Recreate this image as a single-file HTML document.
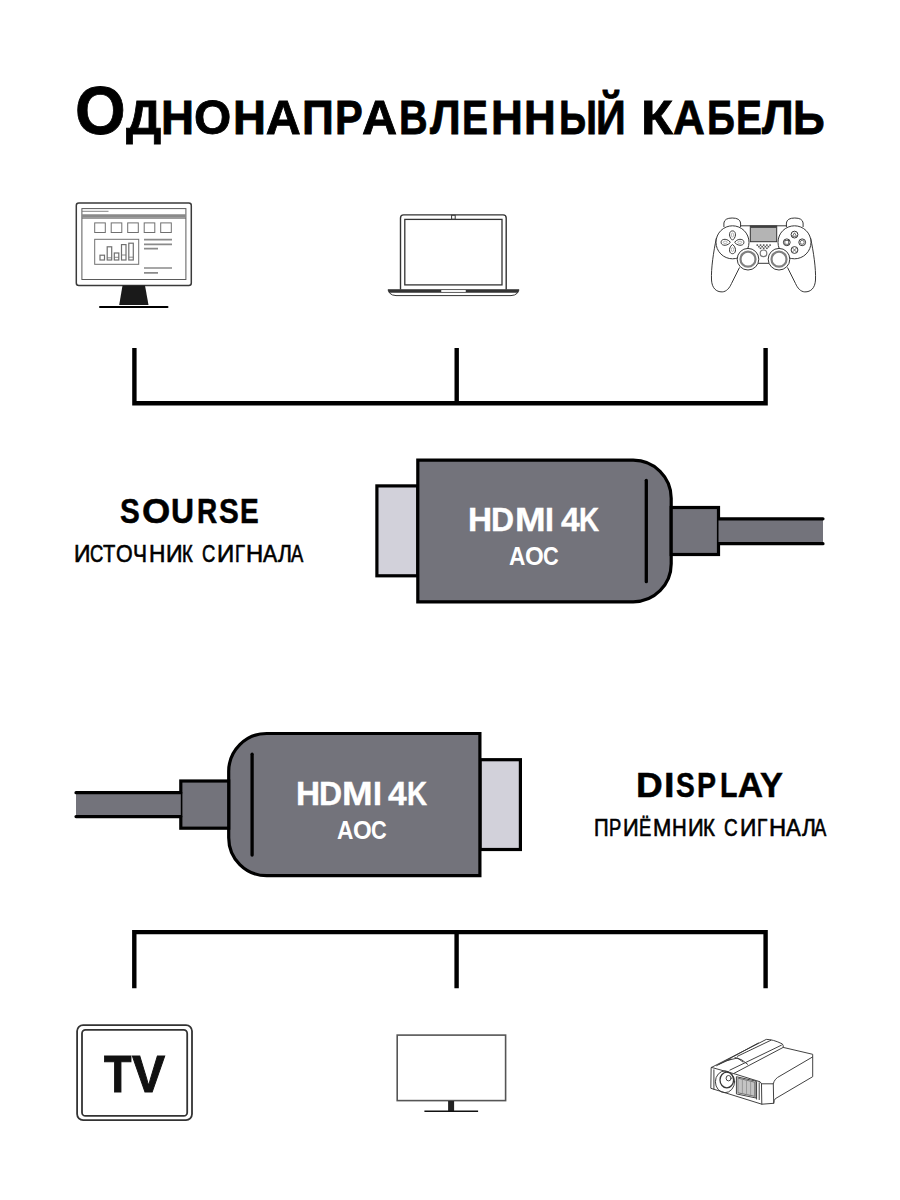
<!DOCTYPE html>
<html><head><meta charset="utf-8">
<style>
html,body{margin:0;padding:0;background:#fff;}
body{width:900px;height:1200px;position:relative;overflow:hidden;font-family:"Liberation Sans",sans-serif;}
svg{position:absolute;left:0;top:0;}
.L{position:absolute;white-space:nowrap;line-height:1;font-weight:bold;transform-origin:0 0;}
.t{position:absolute;white-space:nowrap;line-height:1;color:#000;font-weight:bold;transform-origin:0 0;}
</style></head><body>
<svg width="900" height="1200" viewBox="0 0 900 1200">
  <!-- brackets -->
  <g stroke="#000" stroke-width="4.4" fill="none" stroke-linejoin="miter">
    <path d="M134.4 348 V403.3 H765.6 V348 M456.7 348 V403.3"/>
    <path d="M134.3 988.2 V932.1 H765.6 V988.2 M456.6 932.1 V988.3"/>
  </g>
  <!-- monitor icon -->
  <g fill="none">
    <rect x="76.3" y="202.9" width="115" height="82.6" rx="2.5" stroke="#3a3a3a" stroke-width="1.5"/>
    <rect x="81.9" y="208.6" width="104" height="70.9" stroke="#5a5a5a" stroke-width="1"/>
    <path d="M82 211.3 H108.5" stroke="#777" stroke-width="0.9"/>
    <path d="M82 216 H186" stroke="#8a8a8a" stroke-width="3.6"/>
    <path d="M82 218.3 H186" stroke="#666" stroke-width="0.8"/>
    <g stroke="#707070" stroke-width="1">
      <rect x="94.7" y="222.9" width="10.6" height="9.6"/>
      <rect x="111.2" y="222.9" width="10.6" height="9.6"/>
      <rect x="127.7" y="222.9" width="10.6" height="9.6"/>
      <rect x="144.2" y="222.9" width="10.6" height="9.6"/>
      <rect x="160.7" y="222.9" width="10.6" height="9.6"/>
      <rect x="94.7" y="239.3" width="44" height="25"/>
      <rect x="100" y="255.2" width="4.5" height="4.8" stroke-width="1.2"/>
      <rect x="107.2" y="246.8" width="4.5" height="13.2" stroke-width="1.2"/>
      <rect x="114.3" y="253" width="4.5" height="7" stroke-width="1.2"/>
      <rect x="121.5" y="244.6" width="4.5" height="15.4" stroke-width="1.2"/>
      <rect x="128.8" y="243.2" width="4.5" height="16.8" stroke-width="1.2"/>
      <path d="M107.2 257.8 H111.7 M114.3 257.3 H118.8 M121.5 255 H126 M128.8 257.2 H133.3" stroke-width="0.8"/>
    </g>
    <path d="M144 239.7 H172 M144 244.3 H172 M144 248.6 H158 M144 268 H172 M144 272.8 H158" stroke="#8a8a8a" stroke-width="1.7"/>
  </g>
  <path d="M122.5 285.5 H145 L148.5 305 H119.2 Z" fill="#1a1a1a"/>
  <path d="M100 307 H167.5" stroke="#000" stroke-width="2" stroke-linecap="round"/>
  <!-- laptop icon -->
  <path d="M400.5 289.8 V218 Q400.5 214.9 403.6 214.9 H503.1 Q506.2 214.9 506.2 218 V289.8" fill="none" stroke="#333" stroke-width="1.4"/>
  <rect x="404.8" y="219.4" width="97.2" height="65.5" fill="none" stroke="#333" stroke-width="1.3"/>
  <rect x="451.6" y="215.3" width="3.6" height="3.8" fill="#fff" stroke="#333" stroke-width="1"/>
  <path d="M388 289.8 H519 L517.5 293 Q515 295.6 511 295.6 H396 Q392 295.6 389.5 293 Z" fill="#fff" stroke="#333" stroke-width="1"/>
  <path d="M388 289.8 H519 L517.8 292.8 H389.2 Z" fill="#333"/>
  <rect x="441" y="290" width="25" height="2" rx="1" fill="#f4f4f4"/>
  <!-- gamepad icon -->
  <g fill="none" stroke="#383838" stroke-width="1">
    <path d="M723.9 227 V223 Q724.5 218 732.2 218 Q740 218 740.6 223 V227"/>
    <path d="M803.1 227 V223 Q802.5 218 794.8 218 Q787 218 786.4 223 V227"/>
    <path d="M740 225.8 H787"/>
    <path d="M716.4 238 C713.5 252 711 268 711.5 280 C712 288 716 292 722.2 291.9 C726.5 291.7 729.5 288 731.5 283.5 L739.5 267.5"/>
    <path d="M 810.6 238.0 C 813.5 252.0 816.0 268.0 815.5 280.0 C 815.0 288.0 811.0 292.0 804.8 291.9 C 800.5 291.7 797.5 288.0 795.5 283.5 L 787.5 267.5"/>
    <path d="M757 263.3 H770"/>
    <circle cx="732.5" cy="242.3" r="16.5" fill="#fff"/>
    <circle cx="794.5" cy="242.3" r="16.5" fill="#fff"/>
    <path d="M732.5 240.2 C729.6 238, 729.3 235, 729.6 233.6 C730 231.6, 731.2 230.9, 732.5 230.9 C733.8 230.9, 735 231.6, 735.4 233.6 C735.7 235, 735.4 238, 732.5 240.2 Z"/>
    <path d="M732.5 244.4 C729.6 246.6, 729.3 249.6, 729.6 251 C730 253, 731.2 253.7, 732.5 253.7 C733.8 253.7, 735 253, 735.4 251 C735.7 249.6, 735.4 246.6, 732.5 244.4 Z"/>
    <path d="M730.4 242.3 C728.2 239.4, 725.2 239.1, 723.8 239.4 C721.8 239.8, 721.1 241, 721.1 242.3 C721.1 243.6, 721.8 244.8, 723.8 245.2 C725.2 245.5, 728.2 245.2, 730.4 242.3 Z"/>
    <path d="M734.6 242.3 C736.8 239.4, 739.8 239.1, 741.2 239.4 C743.2 239.8, 743.9 241, 743.9 242.3 C743.9 243.6, 743.2 244.8, 741.2 245.2 C739.8 245.5, 736.8 245.2, 734.6 242.3 Z"/>
    <ellipse cx="732.5" cy="235" rx="1.2" ry="2" stroke="#999" stroke-width="0.7"/>
    <ellipse cx="732.5" cy="249.6" rx="1.2" ry="2" stroke="#999" stroke-width="0.7"/>
    <ellipse cx="725.2" cy="242.3" rx="2" ry="1.2" stroke="#999" stroke-width="0.7"/>
    <ellipse cx="739.8" cy="242.3" rx="2" ry="1.2" stroke="#999" stroke-width="0.7"/>
    <circle cx="794.5" cy="234.6" r="3.4"/>
    <circle cx="794.5" cy="250" r="3.4"/>
    <circle cx="786.8" cy="242.3" r="3.4"/>
    <circle cx="802.2" cy="242.3" r="3.4"/>
    <path d="M792.4 236.3 L794.5 232.8 L796.6 236.3 Z M792.3 247.8 L796.7 252.2 M796.7 247.8 L792.3 252.2" stroke-width="0.7"/>
    <rect x="784.9" y="240.4" width="3.8" height="3.8" stroke-width="0.7"/>
    <circle cx="802.2" cy="242.3" r="2" stroke-width="0.7"/>
    <rect x="750.3" y="226" width="26.4" height="15.7" fill="#b4b4b4" stroke="#333"/>
    <path d="M750.8 227 H776.2" stroke="#333" stroke-width="1.6"/>
    <circle cx="748" cy="259.2" r="10.8" fill="#fff"/>
    <circle cx="779" cy="259.2" r="10.8" fill="#fff"/>
    <circle cx="748" cy="259.2" r="7.5" stroke="#808080" stroke-width="2.2"/>
    <circle cx="779" cy="259.2" r="7.5" stroke="#808080" stroke-width="2.2"/>
    <circle cx="763.5" cy="253.3" r="3.3" stroke="#777" stroke-width="1.2"/>
  </g>
  <g fill="#555">
    <rect x="756.5" y="244.3" width="1.6" height="1.6"/><rect x="759.7" y="244.3" width="1.6" height="1.6"/><rect x="762.9" y="244.3" width="1.6" height="1.6"/><rect x="766.1" y="244.3" width="1.6" height="1.6"/><rect x="769.3" y="244.3" width="1.6" height="1.6"/>
    <rect x="758.1" y="245.9" width="1.6" height="1.6"/><rect x="761.3" y="245.9" width="1.6" height="1.6"/><rect x="764.5" y="245.9" width="1.6" height="1.6"/><rect x="767.7" y="245.9" width="1.6" height="1.6"/>
    <rect x="759.7" y="247.5" width="1.6" height="1.6"/><rect x="762.9" y="247.5" width="1.6" height="1.6"/><rect x="766.1" y="247.5" width="1.6" height="1.6"/>
  </g>
  <!-- TV icon -->
  <rect x="77.1" y="1025.1" width="114.9" height="95" rx="6" fill="none" stroke="#333" stroke-width="1.8"/>
  <rect x="82" y="1029.9" width="105.2" height="86" rx="3.5" fill="none" stroke="#333" stroke-width="1.8"/>
  <!-- flat tv icon -->
  <rect x="397.2" y="1035.1" width="108.4" height="65.5" fill="none" stroke="#555" stroke-width="1.6"/>
  <rect x="448.1" y="1101" width="6" height="10" fill="#222"/>
  <path d="M424.4 1111.2 H478.1" stroke="#111" stroke-width="1.4"/>
  <!-- projector icon -->
  <g fill="none" stroke="#383838" stroke-width="0.95" stroke-linejoin="round" stroke-linecap="round">
    <path d="M711.5 1067.4 L766.3 1039.4 Q773 1039.3 782.3 1043.9 Q783.6 1045.5 783.2 1047.4 L812.7 1054.3 V1076.7 L775.3 1098.7 Q774 1100 773.7 1103.3 L761.8 1104.2 L711.2 1088.4 Z" fill="#fff"/>
    <path d="M711.5 1067.4 L735.7 1074.2 L760.1 1081.8 L761.5 1083.8 H773.3 Q774.5 1078.6 780 1076 L812.5 1057"/>
    <path d="M761.5 1083.8 L761.8 1104.2 M773.3 1083.8 L773.7 1103.3"/>
    <path d="M734.3 1073.2 L783.2 1047.4 M729.9 1070.1 L781.4 1045.2 M716.6 1065.7 L758.3 1043 M737.4 1056.3 L770.8 1040.3"/>
    <path d="M735 1057.5 Q742 1058.5 747.7 1064.3 M727 1060.5 L737.5 1058 L743 1062 M719 1064.3 L731 1059"/>
    <path d="M713.9 1069.8 V1089.3"/>
    <path d="M756.6 1081.8 V1099.1 M759.2 1082.7 V1099.6"/>
    <ellipse cx="725" cy="1081.8" rx="9.6" ry="10.9"/>
    <ellipse cx="726.8" cy="1080" rx="6.8" ry="7.8" stroke-width="1.3"/>
    <ellipse cx="728.6" cy="1078.2" rx="2.5" ry="2.7"/>
    <path d="M736.8 1076.8 L756 1081.2 V1098 L736.8 1094 Z"/>
    <path d="M738.3 1078.2 L754.8 1082.2 V1096.4 L738.3 1092.9 Z" fill="#c4c4c4" stroke="#666"/>
    <path d="M742.4 1079.2 V1093.8 M746.5 1080.2 V1094.7 M750.6 1081.2 V1095.5" stroke="#888" stroke-width="0.7"/>
  </g>
  <!-- plug 1 -->
  <g stroke="#000" stroke-width="3.2">
    <rect x="376.9" y="485.9" width="41" height="89.9" fill="#d2d1da"/>
    <path d="M417.8 460.2 H633.2 A38 38 0 0 1 671.2 498.2 V563.8 A38 38 0 0 1 633.2 601.8 H417.8 Z" fill="#73737b"/>
    <rect x="671.2" y="507.5" width="47.3" height="47" fill="#73737b"/>
    <rect x="718.5" y="518.8" width="104.5" height="24.9" fill="#73737b" stroke="none"/>
    <path d="M718.5 518.8 H823 M718.5 543.7 H823" stroke-linecap="round"/>
    <path d="M646.3 480.3 V581.7" stroke-width="3.3" stroke-linecap="round"/>
  </g>
  <!-- plug 2 -->
  <g stroke="#000" stroke-width="3.2">
    <rect x="480" y="759.7" width="40.4" height="89.8" fill="#d2d1da"/>
    <path d="M479.9 733.5 V875.7 H266.7 A38 38 0 0 1 228.7 837.7 V771.5 A38 38 0 0 1 266.7 733.5 Z" fill="#73737b"/>
    <rect x="180.8" y="781" width="47.9" height="47.2" fill="#73737b"/>
    <rect x="76" y="792.7" width="104.8" height="23.9" fill="#73737b" stroke="none"/>
    <path d="M76 792.7 H180.8 M76 816.6 H180.8" stroke-linecap="round"/>
    <path d="M252.1 754.2 V855" stroke-width="3.3" stroke-linecap="round"/>
  </g>
</svg>
<span class="L" style="left:75.0px;top:75.6px;font-size:69px;transform:scaleX(0.944);color:#000;-webkit-text-stroke:0.8px #000;">О</span>
<span class="L" style="left:126.0px;top:92.9px;font-size:48.5px;transform:scaleX(1.020);color:#000;-webkit-text-stroke:0.8px #000;">Д</span>
<span class="L" style="left:161.3px;top:92.9px;font-size:48.5px;transform:scaleX(0.944);color:#000;-webkit-text-stroke:0.8px #000;">Н</span>
<span class="L" style="left:194.4px;top:92.9px;font-size:48.5px;transform:scaleX(0.987);color:#000;-webkit-text-stroke:0.8px #000;">О</span>
<span class="L" style="left:233.0px;top:92.9px;font-size:48.5px;transform:scaleX(0.940);color:#000;-webkit-text-stroke:0.8px #000;">Н</span>
<span class="L" style="left:265.8px;top:92.9px;font-size:48.5px;transform:scaleX(1.000);color:#000;-webkit-text-stroke:0.8px #000;">А</span>
<span class="L" style="left:302.4px;top:92.9px;font-size:48.5px;transform:scaleX(0.913);color:#000;-webkit-text-stroke:0.8px #000;">П</span>
<span class="L" style="left:334.9px;top:92.9px;font-size:48.5px;transform:scaleX(0.858);color:#000;-webkit-text-stroke:0.8px #000;">Р</span>
<span class="L" style="left:362.4px;top:92.9px;font-size:48.5px;transform:scaleX(1.003);color:#000;-webkit-text-stroke:0.8px #000;">А</span>
<span class="L" style="left:399.4px;top:92.9px;font-size:48.5px;transform:scaleX(0.817);color:#000;-webkit-text-stroke:0.8px #000;">В</span>
<span class="L" style="left:430.2px;top:92.9px;font-size:48.5px;transform:scaleX(0.902);color:#000;-webkit-text-stroke:0.8px #000;">Л</span>
<span class="L" style="left:461.5px;top:92.9px;font-size:48.5px;transform:scaleX(0.800);color:#000;-webkit-text-stroke:0.8px #000;">Е</span>
<span class="L" style="left:490.7px;top:92.9px;font-size:48.5px;transform:scaleX(0.909);color:#000;-webkit-text-stroke:0.8px #000;">Н</span>
<span class="L" style="left:524.2px;top:92.9px;font-size:48.5px;transform:scaleX(0.905);color:#000;-webkit-text-stroke:0.8px #000;">Н</span>
<span class="L" style="left:558.5px;top:92.9px;font-size:48.5px;transform:scaleX(0.800);color:#000;-webkit-text-stroke:0.8px #000;">Ы</span>
<span class="L" style="left:595.9px;top:92.9px;font-size:48.5px;transform:scaleX(0.853);color:#000;-webkit-text-stroke:0.8px #000;">Й</span>
<span class="L" style="left:641.4px;top:92.9px;font-size:48.5px;transform:scaleX(1.080);color:#000;-webkit-text-stroke:0.8px #000;">К</span>
<span class="L" style="left:672.5px;top:92.9px;font-size:48.5px;transform:scaleX(0.908);color:#000;-webkit-text-stroke:0.8px #000;">А</span>
<span class="L" style="left:706.5px;top:92.9px;font-size:48.5px;transform:scaleX(0.800);color:#000;-webkit-text-stroke:0.8px #000;">Б</span>
<span class="L" style="left:735.5px;top:92.9px;font-size:48.5px;transform:scaleX(0.800);color:#000;-webkit-text-stroke:0.8px #000;">Е</span>
<span class="L" style="left:762.0px;top:92.9px;font-size:48.5px;transform:scaleX(0.931);color:#000;-webkit-text-stroke:0.8px #000;">Л</span>
<span class="L" style="left:793.1px;top:92.9px;font-size:48.5px;transform:scaleX(0.910);color:#000;-webkit-text-stroke:0.8px #000;">Ь</span>
<span class="L" style="left:120.4px;top:492.9px;font-size:35px;transform:scaleX(0.848);color:#000;-webkit-text-stroke:0.5px #000;">S</span>
<span class="L" style="left:141.7px;top:492.9px;font-size:35px;transform:scaleX(1.038);color:#000;-webkit-text-stroke:0.5px #000;">O</span>
<span class="L" style="left:171.4px;top:492.9px;font-size:35px;transform:scaleX(0.910);color:#000;-webkit-text-stroke:0.5px #000;">U</span>
<span class="L" style="left:197.1px;top:492.9px;font-size:35px;transform:scaleX(0.800);color:#000;-webkit-text-stroke:0.5px #000;">R</span>
<span class="L" style="left:218.7px;top:492.9px;font-size:35px;transform:scaleX(0.848);color:#000;-webkit-text-stroke:0.5px #000;">S</span>
<span class="L" style="left:240.4px;top:492.9px;font-size:35px;transform:scaleX(0.800);color:#000;-webkit-text-stroke:0.5px #000;">E</span>
<span class="L" style="left:636.2px;top:767.1px;font-size:35px;transform:scaleX(1.057);color:#000;-webkit-text-stroke:0.5px #000;">D</span>
<span class="L" style="left:663.9px;top:767.1px;font-size:35px;transform:scaleX(1.080);color:#000;-webkit-text-stroke:0.5px #000;">I</span>
<span class="L" style="left:676.0px;top:767.1px;font-size:35px;transform:scaleX(0.805);color:#000;-webkit-text-stroke:0.5px #000;">S</span>
<span class="L" style="left:696.7px;top:767.1px;font-size:35px;transform:scaleX(0.815);color:#000;-webkit-text-stroke:0.5px #000;">P</span>
<span class="L" style="left:719.9px;top:767.1px;font-size:35px;transform:scaleX(0.817);color:#000;-webkit-text-stroke:0.5px #000;">L</span>
<span class="L" style="left:737.8px;top:767.1px;font-size:35px;transform:scaleX(1.000);color:#000;-webkit-text-stroke:0.5px #000;">A</span>
<span class="L" style="left:760.3px;top:767.1px;font-size:35px;transform:scaleX(0.981);color:#000;-webkit-text-stroke:0.5px #000;">Y</span>
<span class="L" style="left:468.0px;top:502.0px;font-size:34px;transform:scaleX(0.980);color:#fff;-webkit-text-stroke:0.4px #fff;">H</span>
<span class="L" style="left:491.4px;top:502.0px;font-size:34px;transform:scaleX(0.939);color:#fff;-webkit-text-stroke:0.4px #fff;">D</span>
<span class="L" style="left:514.7px;top:502.0px;font-size:34px;transform:scaleX(1.080);color:#fff;-webkit-text-stroke:0.4px #fff;">M</span>
<span class="L" style="left:544.8px;top:502.0px;font-size:34px;transform:scaleX(0.944);color:#fff;-webkit-text-stroke:0.4px #fff;">I</span>
<span class="L" style="left:560.5px;top:502.0px;font-size:34px;transform:scaleX(0.986);color:#fff;-webkit-text-stroke:0.4px #fff;">4</span>
<span class="L" style="left:579.2px;top:502.0px;font-size:34px;transform:scaleX(0.818);color:#fff;-webkit-text-stroke:0.4px #fff;">K</span>
<span class="L" style="left:509.2px;top:542.5px;font-size:26px;transform:scaleX(0.874);color:#fff;">A</span>
<span class="L" style="left:524.8px;top:542.5px;font-size:26px;transform:scaleX(0.928);color:#fff;">O</span>
<span class="L" style="left:543.3px;top:542.5px;font-size:26px;transform:scaleX(0.836);color:#fff;">C</span>
<span class="L" style="left:295.7px;top:776.2px;font-size:34px;transform:scaleX(0.980);color:#fff;-webkit-text-stroke:0.4px #fff;">H</span>
<span class="L" style="left:319.1px;top:776.2px;font-size:34px;transform:scaleX(0.939);color:#fff;-webkit-text-stroke:0.4px #fff;">D</span>
<span class="L" style="left:342.4px;top:776.2px;font-size:34px;transform:scaleX(1.080);color:#fff;-webkit-text-stroke:0.4px #fff;">M</span>
<span class="L" style="left:372.5px;top:776.2px;font-size:34px;transform:scaleX(0.944);color:#fff;-webkit-text-stroke:0.4px #fff;">I</span>
<span class="L" style="left:388.2px;top:776.2px;font-size:34px;transform:scaleX(0.986);color:#fff;-webkit-text-stroke:0.4px #fff;">4</span>
<span class="L" style="left:406.9px;top:776.2px;font-size:34px;transform:scaleX(0.818);color:#fff;-webkit-text-stroke:0.4px #fff;">K</span>
<span class="L" style="left:337.2px;top:816.5px;font-size:26px;transform:scaleX(0.874);color:#fff;">A</span>
<span class="L" style="left:352.8px;top:816.5px;font-size:26px;transform:scaleX(0.928);color:#fff;">O</span>
<span class="L" style="left:371.3px;top:816.5px;font-size:26px;transform:scaleX(0.836);color:#fff;">C</span>
<span class="L" style="left:104.2px;top:1047.7px;font-size:52px;transform:scaleX(0.865);color:#111;-webkit-text-stroke:1px #111;">T</span>
<span class="L" style="left:131.8px;top:1047.7px;font-size:52px;transform:scaleX(0.954);color:#111;-webkit-text-stroke:1px #111;">V</span>
<span class="L" style="left:74.0px;top:543.2px;font-size:23px;transform:scaleX(0.996);color:#000;font-weight:normal;-webkit-text-stroke:0.6px #000;">И</span>
<span class="L" style="left:90.2px;top:543.2px;font-size:23px;transform:scaleX(0.800);color:#000;font-weight:normal;-webkit-text-stroke:0.6px #000;">С</span>
<span class="L" style="left:103.2px;top:543.2px;font-size:23px;transform:scaleX(0.877);color:#000;font-weight:normal;-webkit-text-stroke:0.6px #000;">Т</span>
<span class="L" style="left:116.2px;top:543.2px;font-size:23px;transform:scaleX(0.928);color:#000;font-weight:normal;-webkit-text-stroke:0.6px #000;">О</span>
<span class="L" style="left:133.4px;top:543.2px;font-size:23px;transform:scaleX(0.911);color:#000;font-weight:normal;-webkit-text-stroke:0.6px #000;">Ч</span>
<span class="L" style="left:148.5px;top:543.2px;font-size:23px;transform:scaleX(0.986);color:#000;font-weight:normal;-webkit-text-stroke:0.6px #000;">Н</span>
<span class="L" style="left:165.7px;top:543.2px;font-size:23px;transform:scaleX(1.004);color:#000;font-weight:normal;-webkit-text-stroke:0.6px #000;">И</span>
<span class="L" style="left:181.9px;top:543.2px;font-size:23px;transform:scaleX(0.800);color:#000;font-weight:normal;-webkit-text-stroke:0.6px #000;">К</span>
<span class="L" style="left:202.2px;top:543.2px;font-size:23px;transform:scaleX(0.800);color:#000;font-weight:normal;-webkit-text-stroke:0.6px #000;">С</span>
<span class="L" style="left:216.6px;top:543.2px;font-size:23px;transform:scaleX(1.043);color:#000;font-weight:normal;-webkit-text-stroke:0.6px #000;">И</span>
<span class="L" style="left:235.0px;top:543.2px;font-size:23px;transform:scaleX(0.800);color:#000;font-weight:normal;-webkit-text-stroke:0.6px #000;">Г</span>
<span class="L" style="left:245.9px;top:543.2px;font-size:23px;transform:scaleX(1.033);color:#000;font-weight:normal;-webkit-text-stroke:0.6px #000;">Н</span>
<span class="L" style="left:263.0px;top:543.2px;font-size:23px;transform:scaleX(0.926);color:#000;font-weight:normal;-webkit-text-stroke:0.6px #000;">А</span>
<span class="L" style="left:278.1px;top:543.2px;font-size:23px;transform:scaleX(0.923);color:#000;font-weight:normal;-webkit-text-stroke:0.6px #000;">Л</span>
<span class="L" style="left:291.0px;top:543.2px;font-size:23px;transform:scaleX(0.800);color:#000;font-weight:normal;-webkit-text-stroke:0.6px #000;">А</span>
<span class="L" style="left:593.9px;top:817.1px;font-size:23px;transform:scaleX(0.885);color:#000;font-weight:normal;-webkit-text-stroke:0.6px #000;">П</span>
<span class="L" style="left:609.0px;top:817.1px;font-size:23px;transform:scaleX(0.800);color:#000;font-weight:normal;-webkit-text-stroke:0.6px #000;">Р</span>
<span class="L" style="left:622.5px;top:817.1px;font-size:23px;transform:scaleX(0.949);color:#000;font-weight:normal;-webkit-text-stroke:0.6px #000;">И</span>
<span class="L" style="left:638.5px;top:817.1px;font-size:23px;transform:scaleX(0.800);color:#000;font-weight:normal;-webkit-text-stroke:0.6px #000;">Ё</span>
<span class="L" style="left:653.2px;top:817.1px;font-size:23px;transform:scaleX(0.956);color:#000;font-weight:normal;-webkit-text-stroke:0.6px #000;">М</span>
<span class="L" style="left:671.9px;top:817.1px;font-size:23px;transform:scaleX(0.885);color:#000;font-weight:normal;-webkit-text-stroke:0.6px #000;">Н</span>
<span class="L" style="left:687.8px;top:817.1px;font-size:23px;transform:scaleX(0.949);color:#000;font-weight:normal;-webkit-text-stroke:0.6px #000;">И</span>
<span class="L" style="left:703.3px;top:817.1px;font-size:23px;transform:scaleX(0.888);color:#000;font-weight:normal;-webkit-text-stroke:0.6px #000;">К</span>
<span class="L" style="left:723.8px;top:817.1px;font-size:23px;transform:scaleX(0.821);color:#000;font-weight:normal;-webkit-text-stroke:0.6px #000;">С</span>
<span class="L" style="left:739.5px;top:817.1px;font-size:23px;transform:scaleX(0.988);color:#000;font-weight:normal;-webkit-text-stroke:0.6px #000;">И</span>
<span class="L" style="left:757.2px;top:817.1px;font-size:23px;transform:scaleX(0.830);color:#000;font-weight:normal;-webkit-text-stroke:0.6px #000;">Г</span>
<span class="L" style="left:768.7px;top:817.1px;font-size:23px;transform:scaleX(1.033);color:#000;font-weight:normal;-webkit-text-stroke:0.6px #000;">Н</span>
<span class="L" style="left:785.8px;top:817.1px;font-size:23px;transform:scaleX(0.965);color:#000;font-weight:normal;-webkit-text-stroke:0.6px #000;">А</span>
<span class="L" style="left:801.6px;top:817.1px;font-size:23px;transform:scaleX(0.915);color:#000;font-weight:normal;-webkit-text-stroke:0.6px #000;">Л</span>
<span class="L" style="left:813.8px;top:817.1px;font-size:23px;transform:scaleX(0.800);color:#000;font-weight:normal;-webkit-text-stroke:0.6px #000;">А</span>
</body></html>
